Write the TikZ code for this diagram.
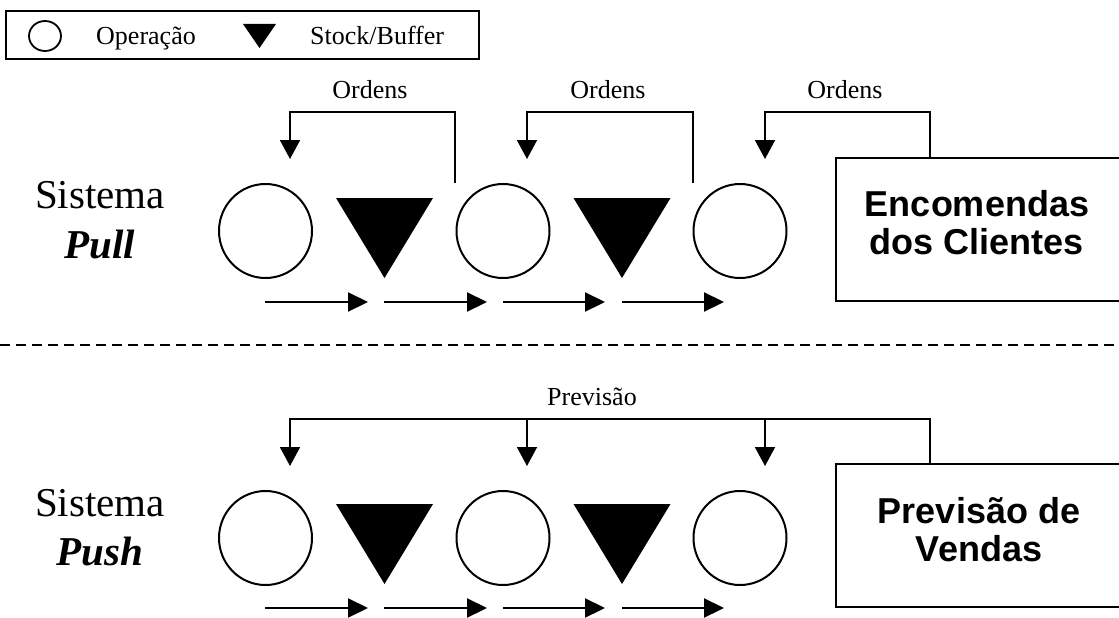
\documentclass[tikz,border=0pt]{standalone}
\usepackage{fontspec}
\setmainfont{Liberation Serif}
\setsansfont{Liberation Sans}
\usetikzlibrary{arrows.meta,shapes.geometric}
\begin{document}
\begin{tikzpicture}[x=1pt,y=-1pt,
  op/.style={draw,ellipse,line width=2pt,minimum width=93pt,minimum height=94pt,inner sep=0pt},
  legop/.style={draw,ellipse,line width=1.8pt,minimum width=32pt,minimum height=30pt,inner sep=0pt},
  buffer/.pic={\fill (-48.5,-40) -- (48.5,-40) -- (0,40) -- cycle; \coordinate (-c) at (0,0);},
  legbuffer/.pic={\fill (-16.5,-12) -- (16.5,-12) -- (0,12) -- cycle;},
  flow/.style={line width=2.2pt,-{Triangle[length=20pt,width=19pt]}},
  fb/.style={line width=1.9pt,-{Triangle[length=19pt,width=20pt]}},
  small/.style={font=\fontsize{26}{30}\selectfont,inner sep=0pt},
  sys/.style={font=\fontsize{41}{46}\selectfont,inner sep=0pt,anchor=base},
  bigbox/.style={draw,line width=2pt,minimum width=284pt,minimum height=143pt,anchor=north west,inner sep=0pt},
  boxtxt/.style={font=\sffamily\bfseries\fontsize{36}{38}\selectfont,align=center,inner sep=0pt,anchor=north},
]
\useasboundingbox (0,0) rectangle (1119,618);
\fill[white] (0,0) rectangle (1119,618);

% ---------- legend ----------
\node[draw,line width=1.8pt,minimum width=473pt,minimum height=48pt,anchor=north west,inner sep=0pt] (legend) at (5,10) {};
\node[legop] (legop) at (45,36) {};
\node[small,anchor=base west] (legoptxt) at (96,45) {Operação};
\pic (legbuf) at (259.5,36) {legbuffer};
\node[small,anchor=base west] (legbuftxt) at (310,45) {Stock/Buffer};

% ---------- pull system ----------
\node[sys] (sysA) at (100,208) {Sistema};
\node[sys] (pull) at (100,258) {\bfseries\itshape Pull};

\node[op] (a1) at (265.5,231) {};
\pic (ab1) at (384.5,238) {buffer};
\node[op] (a2) at (503,231) {};
\pic (ab2) at (622,238) {buffer};
\node[op] (a3) at (740,231) {};

\node[bigbox] (enc) at (835,157) {};
\node[boxtxt] (enctxt) at (977,190) {Encomendas\\dos Clientes};

% material flow
\coordinate (af0) at (265,302);
\coordinate (af1) at (368,302);
\coordinate (af2) at (384,302);
\coordinate (af3) at (487,302);
\coordinate (af4) at (503,302);
\coordinate (af5) at (605,302);
\coordinate (af6) at (622,302);
\coordinate (af7) at (724,302);
\draw[flow] (af0) -- (af1);
\draw[flow] (af2) -- (af3);
\draw[flow] (af4) -- (af5);
\draw[flow] (af6) -- (af7);

% order signals
\coordinate (ordy) at (0,112);
\coordinate (o1s) at (455,183);
\coordinate (o1t) at (290,159);
\coordinate (o2s) at (693,183);
\coordinate (o2t) at (527,159);
\coordinate (o3s) at (930,157);
\coordinate (o3t) at (765,159);
\draw[fb] (o1s) -- (o1s |- ordy) -| (o1t);
\draw[fb] (o2s) -- (o2s |- ordy) -| (o2t);
\draw[fb] (o3s) -- (o3s |- ordy) -| (o3t);
\node[small,anchor=base] (ord1) at (370,98) {Ordens};
\node[small,anchor=base] (ord2) at (608,98) {Ordens};
\node[small,anchor=base] (ord3) at (845,98) {Ordens};

% ---------- separator ----------
\coordinate (sepL) at (0,345);
\coordinate (sepR) at (1119,345);
\draw[line width=1.5pt,dash pattern=on 10pt off 6pt] (sepL) -- (sepR);

% ---------- push system ----------
\node[sys] (sysB) at (100,516) {Sistema};
\node[sys] (push) at (100,565) {\bfseries\itshape Push};

\node[op] (b1) at (265.5,538) {};
\pic (bb1) at (384.5,544) {buffer};
\node[op] (b2) at (503,538) {};
\pic (bb2) at (622,544) {buffer};
\node[op] (b3) at (740,538) {};

\node[bigbox] (prev) at (835,463) {};
\node[boxtxt] (prevtxt) at (979,497) {Previsão de\\Vendas};

% material flow
\coordinate (bf0) at (265,608);
\coordinate (bf1) at (368,608);
\coordinate (bf2) at (384,608);
\coordinate (bf3) at (487,608);
\coordinate (bf4) at (503,608);
\coordinate (bf5) at (605,608);
\coordinate (bf6) at (622,608);
\coordinate (bf7) at (724,608);
\draw[flow] (bf0) -- (bf1);
\draw[flow] (bf2) -- (bf3);
\draw[flow] (bf4) -- (bf5);
\draw[flow] (bf6) -- (bf7);

% forecast signals
\coordinate (fs) at (930,463);
\coordinate (fy) at (0,419);
\coordinate (ft1) at (290,466);
\coordinate (ft2) at (527,466);
\coordinate (ft3) at (765,466);
\draw[fb] (fs) -- (fs |- fy) -| (ft1);
\draw[fb] (ft2 |- fy) -- (ft2);
\draw[fb] (ft3 |- fy) -- (ft3);
\node[small,anchor=base] (prevlbl) at (592,405) {Previsão};
\end{tikzpicture}
\end{document}
